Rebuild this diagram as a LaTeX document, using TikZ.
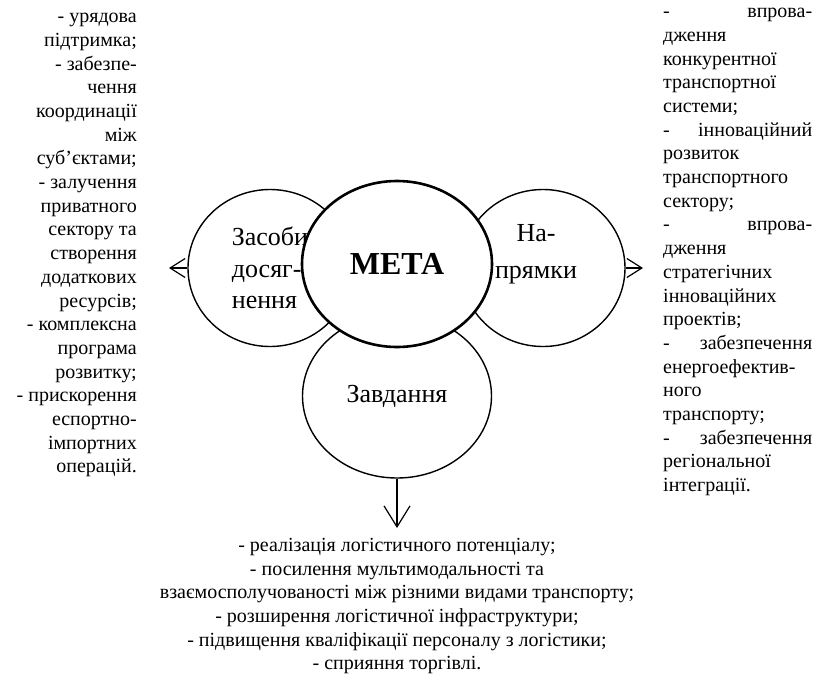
\documentclass[tikz,border=0pt]{standalone}
\usepackage{fontspec}
\setmainfont{Liberation Serif}
\usetikzlibrary{shapes.geometric,arrows.meta}
\tikzstyle{every node}=[inner sep=0pt]
\tikzstyle{oval}=[draw=black,shape=ellipse,fill=white,line width=1.4pt,minimum width=164pt,minimum height=157pt,font=\fontsize{26}{31.5}\selectfont]
\tikzstyle{goal}=[oval,line width=2.6pt,minimum width=190pt,minimum height=166pt,font=\fontsize{32}{36}\selectfont\bfseries]
\tikzstyle{list}=[font=\fontsize{20}{23.7}\selectfont]
\tikzstyle{link}=[line width=1.2pt,-{Straight Barb[length=15pt,width=19pt]}]
\newlength\rcol
\setlength\rcol{149pt}
\newcommand\jline[1]{\makebox[\rcol][s]{#1}}

\begin{document}
\begin{tikzpicture}[x=1pt,y=-1pt]
\useasboundingbox (0,0) rectangle (814,689);
% three outer circles first, the goal on top
\node[oval,align=left] (zasoby) at (270,268) {Засоби\\досяг-\\нення};
\node[oval] (napryamky) at (543,268) {};
\node[oval,minimum width=189pt,minimum height=164pt] (zavdannia) at (397,396) {Завдання};
\node[goal] (meta) at (397,264) {МЕТА};
\node[font=\fontsize{26}{31.5}\selectfont,align=center] (naprtext) at (536,254) {На-\\[5.5pt]прямки};

\coordinate (lend) at (169,268);
\coordinate (rend) at (643,268);
\coordinate (bend) at (397,528);
\draw[link] (zasoby.west) -- (lend);
\draw[link] (napryamky.east) -- (rend);
\draw[link,-{Straight Barb[length=21pt,width=26pt]}] (zavdannia.south) -- (bend);

% lists
\node[list,align=right,anchor=north east] (means) at (137,13) {- урядова\\підтримка;\\- забезпе-\\чення\\координації\\між\\суб’єктами;\\- залучення\\приватного\\сектору та\\створення\\додаткових\\ресурсів;\\- комплексна\\програма\\розвитку;\\- прискорення\\еспортно-\\імпортних\\операцій.};
\node[list,align=left,anchor=north west] (dirs) at (663,8) {\jline{- впрова-}\\дження\\конкурентної\\транспортної\\системи;\\\jline{- інноваційний}\\розвиток\\транспортного\\сектору;\\\jline{- впрова-}\\дження\\стратегічних\\інноваційних\\проектів;\\\jline{- забезпечення}\\енергоефектив-\\ного\\транспорту;\\\jline{- забезпечення}\\регіональної\\інтеграції.};
\node[list,align=center,anchor=north] (tasks) at (397,538) {- реалізація логістичного потенціалу;\\- посилення мультимодальності та\\взаємосполучованості між різними видами транспорту;\\- розширення логістичної інфраструктури;\\- підвищення кваліфікації персоналу з логістики;\\- сприяння торгівлі.};
\end{tikzpicture}
\end{document}
